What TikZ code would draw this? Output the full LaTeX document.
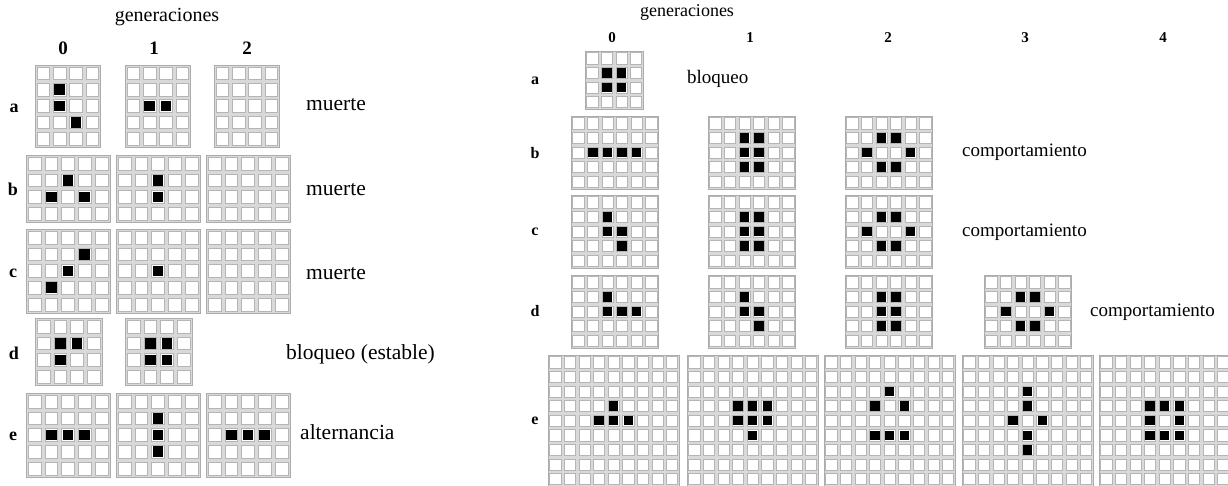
\documentclass[tikz,border=0pt]{standalone}
\usepackage{fontspec}
\setmainfont{Liberation Serif}
\tikzset{
  gridbg/.style={fill=gray!30},
  gridframe/.style={draw=gray!65,line width=0.9pt},
  cellbox/.style={fill=white,draw=gray!58,line width=0.55pt},
  livecell/.style={fill=black},
  ltitle/.style={inner sep=0pt,font=\fontsize{20}{24}\selectfont},
  ldigit/.style={inner sep=0pt,font=\fontsize{19}{22}\selectfont\bfseries},
  lrow/.style={inner sep=0pt,font=\fontsize{18}{22}\selectfont\bfseries},
  lnote/.style={inner sep=0pt,anchor=west,font=\fontsize{21.5}{24}\selectfont},
  rtitle/.style={inner sep=0pt,font=\fontsize{18}{20}\selectfont},
  rdigit/.style={inner sep=0pt,font=\fontsize{15}{17}\selectfont\bfseries},
  rrow/.style={inner sep=0pt,font=\fontsize{16}{19}\selectfont\bfseries},
  rnote/.style={inner sep=0pt,anchor=west,font=\fontsize{19}{22}\selectfont},
}
% x0, y0, cols, rows, cell size, list of live cells (col/row, 0-based)
\newcommand{\lifegrid}[6]{%
  \begin{scope}[shift={(#1,#2)},x=#5pt,y=-#5pt]
    \fill[gridbg] (0,0) rectangle (#3,#4);
    \foreach \i in {1,...,#3}{\foreach \j in {1,...,#4}{%
      \filldraw[cellbox] (\i-0.88,\j-0.88) rectangle (\i-0.12,\j-0.12);}}
    \draw[gridframe] (0,0) rectangle (#3,#4);
    \if\relax\detokenize{#6}\relax\else
      \foreach \p/\q in {#6}{\fill[livecell] (\p+0.18,\q+0.18) rectangle (\p+0.82,\q+0.82);}
    \fi
  \end{scope}}
\begin{document}
\begin{tikzpicture}[x=1pt,y=-1pt]
\useasboundingbox (0,0) rectangle (1228,485);
\fill[white] (0,0) rectangle (1228,485);
% ---------------- left panel ----------------
\node[ltitle] (lgen) at (167,17) {generaciones};
\node[ldigit] (lg0) at (63,48) {0};
\node[ldigit] (lg1) at (154,48) {1};
\node[ldigit] (lg2) at (247,48) {2};
\node[lrow] (lra) at (14,108) {a};
\node[lrow] (lrb) at (13,189) {b};
\node[lrow] (lrc) at (13,273) {c};
\node[lrow] (lrd) at (14,353) {d};
\node[lrow] (lre) at (13,436) {e};
% row a
\lifegrid{35}{65}{4}{5}{16.4}{1/1,1/2,2/3}
\lifegrid{125}{65}{4}{5}{16.4}{1/2,2/2}
\lifegrid{214}{65}{4}{5}{16.4}{}
% row b
\lifegrid{26}{155}{5}{4}{16.8}{2/1,1/2,3/2}
\lifegrid{116}{155}{5}{4}{16.8}{2/1,2/2}
\lifegrid{206}{155}{5}{4}{16.8}{}
% row c
\lifegrid{26}{229}{5}{5}{16.8}{3/1,2/2,1/3}
\lifegrid{116}{229}{5}{5}{16.8}{2/2}
\lifegrid{206}{229}{5}{5}{16.8}{}
% row d
\lifegrid{35}{318}{4}{4}{16.8}{1/1,2/1,1/2}
\lifegrid{125}{318}{4}{4}{16.8}{1/1,2/1,1/2,2/2}
% row e
\lifegrid{26}{393}{5}{5}{16.8}{1/2,2/2,3/2}
\lifegrid{116}{393}{5}{5}{16.8}{2/1,2/2,2/3}
\lifegrid{206}{393}{5}{5}{16.8}{1/2,2/2,3/2}
\node[lnote] (lna) at (306,105) {muerte};
\node[lnote] (lnb) at (306,190) {muerte};
\node[lnote] (lnc) at (306,274) {muerte};
\node[lnote] (lnd) at (286,354) {bloqueo (estable)};
\node[lnote] (lne) at (300,432) {alternancia};
% ---------------- right panel ----------------
\node[rtitle] (rgen) at (687,12) {generaciones};
\node[rdigit] (rg0) at (612,38) {0};
\node[rdigit] (rg1) at (750,38) {1};
\node[rdigit] (rg2) at (888,38) {2};
\node[rdigit] (rg3) at (1025,38) {3};
\node[rdigit] (rg4) at (1163,38) {4};
\node[rrow] (rra) at (535,81) {a};
\node[rrow] (rrb) at (535,153) {b};
\node[rrow] (rrc) at (535,232) {c};
\node[rrow] (rrd) at (535,311) {d};
\node[rrow] (rre) at (535,421) {e};
% row a
\lifegrid{585}{51}{4}{4}{14.6}{1/1,2/1,1/2,2/2}
% row b
\lifegrid{571}{116}{6}{5}{14.6}{1/2,2/2,3/2,4/2}
\lifegrid{708}{116}{6}{5}{14.6}{2/1,3/1,2/2,3/2,2/3,3/3}
\lifegrid{845}{116}{6}{5}{14.6}{2/1,3/1,1/2,4/2,2/3,3/3}
% row c
\lifegrid{571}{195}{6}{5}{14.6}{2/1,2/2,3/2,3/3}
\lifegrid{708}{195}{6}{5}{14.6}{2/1,3/1,2/2,3/2,2/3,3/3}
\lifegrid{845}{195}{6}{5}{14.6}{2/1,3/1,1/2,4/2,2/3,3/3}
% row d
\lifegrid{571}{275}{6}{5}{14.6}{2/1,2/2,3/2,4/2}
\lifegrid{708}{275}{6}{5}{14.6}{2/1,2/2,3/2,3/3}
\lifegrid{845}{275}{6}{5}{14.6}{2/1,3/1,2/2,3/2,2/3,3/3}
\lifegrid{984}{275}{6}{5}{14.6}{2/1,3/1,1/2,4/2,2/3,3/3}
% row e
\lifegrid{548}{355}{9}{9}{14.6}{4/3,3/4,4/4,5/4}
\lifegrid{687}{355}{9}{9}{14.6}{3/3,4/3,5/3,3/4,4/4,5/4,4/5}
\lifegrid{824}{355}{9}{9}{14.6}{4/2,3/3,5/3,3/5,4/5,5/5}
\lifegrid{962}{355}{9}{9}{14.6}{4/2,4/3,3/4,5/4,4/5,4/6}
\lifegrid{1099}{355}{9}{9}{14.6}{3/3,4/3,5/3,3/4,5/4,3/5,4/5,5/5}
\node[rnote] (rna) at (687,79) {bloqueo};
\node[rnote] (rnb) at (962,152) {comportamiento};
\node[rnote] (rnc) at (962,232) {comportamiento};
\node[rnote] (rnd) at (1090,312) {comportamiento};
\end{tikzpicture}
\end{document}
